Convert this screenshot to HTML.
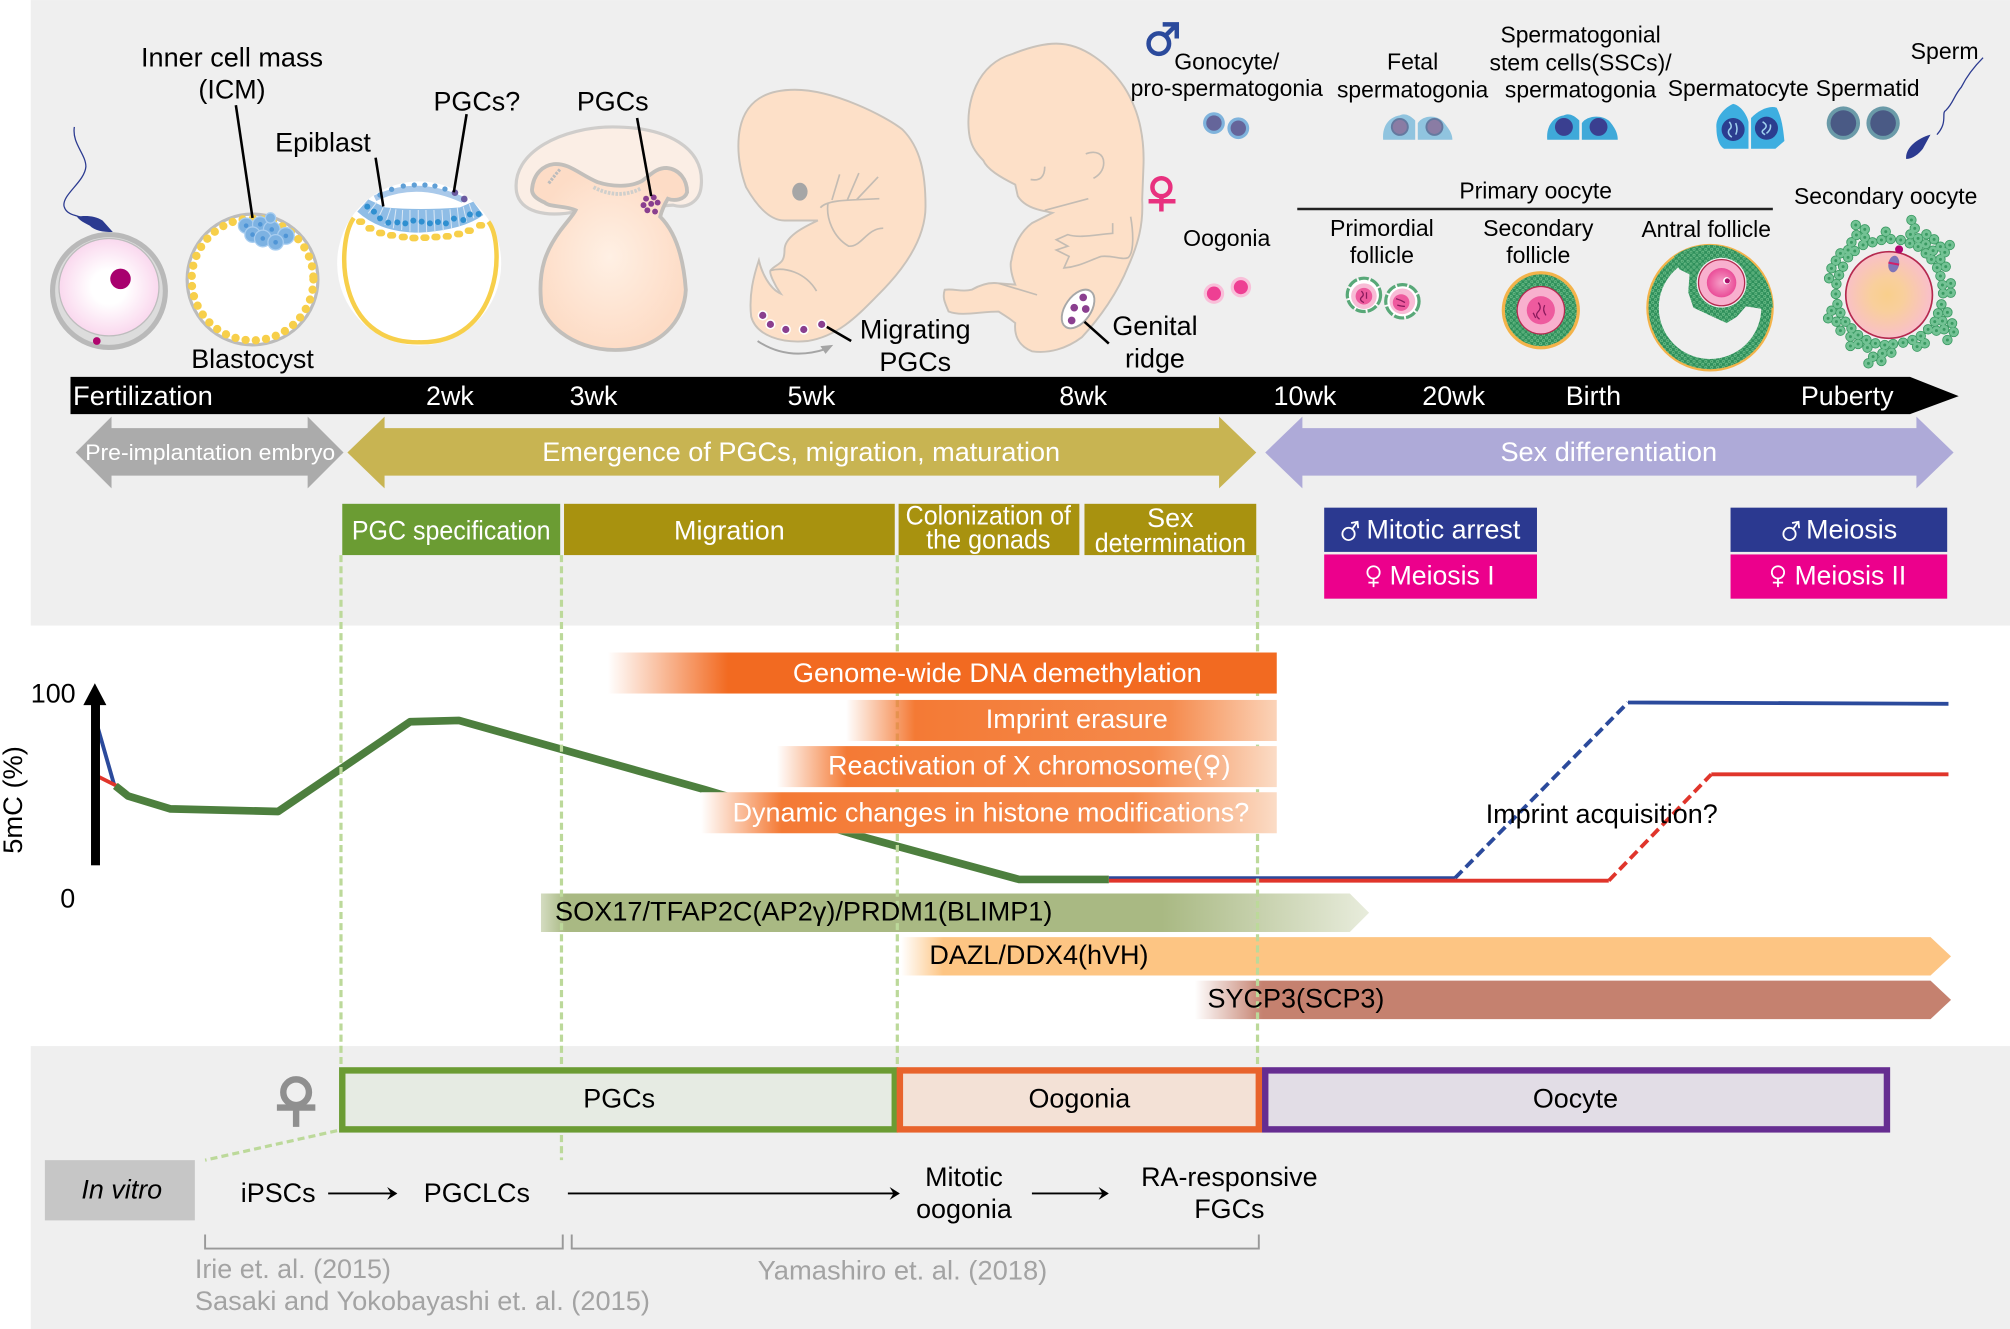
<!DOCTYPE html>
<html><head><meta charset="utf-8"><style>
html,body{margin:0;padding:0;background:#fff;width:2010px;height:1329px;overflow:hidden}
svg{display:block}
text{font-family:"Liberation Sans",sans-serif;font-size:21px;fill:#000}
.s{font-size:18px}.w{fill:#fff}.g{fill:#a3a3a3}
.m{text-anchor:middle}
</style></head><body>
<svg width="2010" height="1329" viewBox="0 0 1568 1036.7" xmlns="http://www.w3.org/2000/svg">
<defs>
<linearGradient id="o1" gradientUnits="userSpaceOnUse" x1="474" x2="996" y1="0" y2="0"><stop offset="0" stop-color="#f26a21" stop-opacity="0"/><stop offset=".18" stop-color="#f26a21"/><stop offset="1" stop-color="#f26a21"/></linearGradient>
<linearGradient id="o2" gradientUnits="userSpaceOnUse" x1="660" x2="996" y1="0" y2="0"><stop offset="0" stop-color="#f47a35" stop-opacity="0"/><stop offset=".16" stop-color="#f47a35"/><stop offset=".75" stop-color="#f58a4c"/><stop offset="1" stop-color="#fbd3b8"/></linearGradient>
<linearGradient id="o3" gradientUnits="userSpaceOnUse" x1="606" x2="996" y1="0" y2="0"><stop offset="0" stop-color="#f47a35" stop-opacity="0"/><stop offset=".14" stop-color="#f47a35"/><stop offset=".75" stop-color="#f58a4c"/><stop offset="1" stop-color="#fbdcc6"/></linearGradient>
<linearGradient id="o4" gradientUnits="userSpaceOnUse" x1="547" x2="996" y1="0" y2="0"><stop offset="0" stop-color="#f47a35" stop-opacity="0"/><stop offset=".14" stop-color="#f47a35"/><stop offset=".75" stop-color="#f58a4c"/><stop offset="1" stop-color="#fbdcc6"/></linearGradient>
<linearGradient id="g1" gradientUnits="userSpaceOnUse" x1="422" x2="1068" y1="0" y2="0"><stop offset="0" stop-color="#a9b983" stop-opacity=".5"/><stop offset=".03" stop-color="#a9b983"/><stop offset=".75" stop-color="#a9b983"/><stop offset="1" stop-color="#e8ecdc"/></linearGradient>
<linearGradient id="g2" gradientUnits="userSpaceOnUse" x1="703" x2="1522" y1="0" y2="0"><stop offset="0" stop-color="#fdc583" stop-opacity="0"/><stop offset=".04" stop-color="#fdc583"/><stop offset="1" stop-color="#fdc583"/></linearGradient>
<linearGradient id="g3" gradientUnits="userSpaceOnUse" x1="932" x2="1522" y1="0" y2="0"><stop offset="0" stop-color="#c5816f" stop-opacity="0"/><stop offset=".09" stop-color="#c5816f"/><stop offset="1" stop-color="#c5816f"/></linearGradient>
<radialGradient id="zy"><stop offset="0" stop-color="#fff"/><stop offset=".35" stop-color="#fff"/><stop offset="1" stop-color="#fad8ee"/></radialGradient>
<radialGradient id="pe"><stop offset="0" stop-color="#fff0e4"/><stop offset="1" stop-color="#fddcc6"/></radialGradient>
<radialGradient id="oo" cx=".48" cy=".5" r=".55"><stop offset="0" stop-color="#f9cf8c"/><stop offset=".35" stop-color="#f9cf9c"/><stop offset="1" stop-color="#f9bdd0"/></radialGradient>
<radialGradient id="pk"><stop offset="0" stop-color="#f6a0c8"/><stop offset="1" stop-color="#ea4d98"/></radialGradient>
<pattern id="gr" patternUnits="userSpaceOnUse" width="4.600" height="4.600"><rect width="4.600" height="4.600" fill="#2f8f5b"/><circle cx="1.300" cy="1.300" r="1.200" fill="#6cbf8a"/><circle cx="3.600" cy="3.600" r="1.200" fill="#6cbf8a"/><circle cx="1.300" cy="1.300" r=".45" fill="#1f7a48"/><circle cx="3.600" cy="3.600" r=".45" fill="#1f7a48"/></pattern>
<path id="cells" d="M768,15h0M795,28h0M770,45h0M795,52h0M755,67h0M790,75h0M745,90h0M765,93h0M722,100h0M708,122h0M745,112h0M695,145h0M730,140h0M718,165h0M688,175h0M710,192h0M708,222h0M713,252h0M695,272h0M722,278h0M685,295h0M710,305h0M737,305h0M722,332h0M755,325h0M752,350h0M775,345h0M752,378h0M775,372h0M800,360h0M803,383h0M827,370h0M855,375h0M880,372h0M910,368h0M938,360h0M963,348h0M952,380h0M975,370h0M985,328h0M1010,332h0M1005,305h0M1033,328h0M1028,303h0M1015,280h0M1043,277h0M1057,310h0M1062,336h0M1043,360h0M1025,253h0M1030,220h0M1053,218h0M1028,195h0M1053,190h0M1022,168h0M1038,140h0M1012,143h0M995,118h0M1022,118h0M1035,97h0M1050,75h0M1022,80h0M1000,92h0M978,100h0M1003,58h0M980,43h0M978,72h0M955,55h0M955,80h0M930,70h0M932,43h0M945,25h0M935,0h0M903,60h0M873,57h0M858,35h0M845,60h0M818,67h0M848,400h0M875,398h0M820,410h0M845,423h0M806,430h0" fill="none" stroke-linecap="round"/>
</defs>

<rect x="24" y="0" width="1544" height="488" fill="#efefef"/>
<rect x="24" y="816" width="1544" height="221" fill="#efefef"/>

<!-- zygote -->
<path d="M58,99 C56,112 67,120 67,130 C66,142 48,152 50,161 C52,168 60,168 65,170" fill="none" stroke="#2b3a90" stroke-width="1"/>
<path d="M60,169 C66,168 74,168 80,172 L88,181 C80,181 74,180 70,176 C66,174 62,172 60,169Z" fill="#2b3a90"/>
<circle cx="85" cy="227" r="44" fill="#dcdcdc" stroke="#b9b9b9" stroke-width="4"/>
<ellipse cx="85" cy="224" rx="39" ry="38" fill="url(#zy)" stroke="#bdbdbd" stroke-width="1"/>
<circle cx="94" cy="217.500" r="8" fill="#a8006e"/>
<circle cx="75.500" cy="266" r="3" fill="#b0056e"/>

<!-- blastocyst -->
<ellipse cx="197" cy="218" rx="51" ry="51" fill="#fff" stroke="#bcbcbc" stroke-width="2.500"/>
<circle cx="197" cy="218" r="47.500" fill="none" stroke="#f7cf4a" stroke-width="6.500" stroke-linecap="round" stroke-dasharray="0 8"/>
<g fill="#7db2e2" stroke="#a8cdf0" stroke-width="1"><circle cx="192" cy="176" r="6"/><circle cx="203" cy="175" r="6"/><circle cx="212" cy="179" r="6.500"/><circle cx="223" cy="184" r="6.500"/><circle cx="197" cy="183" r="6"/><circle cx="205" cy="186" r="6.500"/><circle cx="215" cy="189" r="6"/><circle cx="211" cy="170" r="4"/></g>
<g fill="#4f95d6"><circle cx="192" cy="176" r="1.800"/><circle cx="203" cy="175" r="1.800"/><circle cx="212" cy="179" r="1.800"/><circle cx="223" cy="184" r="1.800"/><circle cx="197" cy="183" r="1.800"/><circle cx="205" cy="186" r="1.800"/><circle cx="215" cy="189" r="1.800"/></g>
<line x1="184" y1="82" x2="197" y2="170" stroke="#000" stroke-width="2"/>

<!-- epiblast -->
<circle cx="327" cy="205.500" r="64" fill="#fff"/>
<path d="M276,170 C262,190 262,268 327,267 C392,268 394,190 381,173" fill="none" stroke="#f7cf4a" stroke-width="3.500"/>
<g transform="translate(249.600,132.600) scale(.26)">
<path d="M165,85 Q290,25 430,90" fill="none" stroke="#a9c9ea" stroke-width="18"/>
<g fill="#5f9fd6"><circle cx="180" cy="75" r="8"/><circle cx="215" cy="58" r="8"/><circle cx="250" cy="48" r="8"/><circle cx="283" cy="45" r="8"/><circle cx="315" cy="45" r="8"/><circle cx="345" cy="48" r="8"/><circle cx="375" cy="57" r="8"/></g>
<circle cx="405" cy="68" r="10" fill="#6a5aa0"/><circle cx="433" cy="87" r="10" fill="#6a5aa0"/>
<path d="M112,125 L145,88 L195,112 Q300,122 420,112 L460,95 L490,135 Q430,180 300,188 Q180,188 112,125Z" fill="#8fbde6"/>
<path d="M145,130 L170,97M172,150 L190,112M195,165 L212,115M220,175 L228,118M245,180 L248,120M270,185 L270,120M295,188 L295,120M320,186 L318,120M345,186 L342,120M370,182 L366,120M395,175 L390,118M418,168 L412,113M440,155 L430,110M462,145 L448,102" stroke="#dbe8f5" stroke-width="3" fill="none"/>
<g fill="#2f8fd0"><circle cx="142" cy="110" r="9"/><circle cx="162" cy="125" r="9"/><circle cx="180" cy="145" r="9"/><circle cx="205" cy="158" r="9"/><circle cx="232" cy="157" r="9"/><circle cx="256" cy="160" r="9"/><circle cx="280" cy="152" r="9"/><circle cx="305" cy="155" r="9"/><circle cx="330" cy="160" r="9"/><circle cx="354" cy="156" r="9"/><circle cx="378" cy="160" r="9"/><circle cx="402" cy="146" r="9"/><circle cx="430" cy="150" r="9"/><circle cx="450" cy="133" r="9"/><circle cx="476" cy="132" r="9"/></g>
<path d="M118,155h8M146,175h8M178,189h8M211,196h8M246,201h8M278,204h8M311,203h8M344,201h8M378,199h8M412,192h8M444,182h8M478,166h8" fill="none" stroke="#f7cf4a" stroke-width="20" stroke-linecap="round"/>
</g>
<line x1="293" y1="123" x2="299" y2="161" stroke="#000" stroke-width="2"/>
<line x1="364" y1="89" x2="354" y2="150" stroke="#000" stroke-width="2"/>

<!-- 3wk -->
<path d="M403,150 C398,118 440,99 478,99 C520,99 550,115 547,145 C546,158 535,163 525,160 L450,165 C425,170 406,165 403,150Z" fill="#fbeee5" stroke="#cfcdcb" stroke-width="2.500"/>
<path d="M415,148 C416,135 424,129 432,128 C444,127 452,136 466,142 C478,146 492,146 501,141 C508,136 512,131 520,131 C530,132 536,140 536,150 C534,156 526,157 521,155 C518,160 516,165 515,169 C526,180 533,198 535,226 C534,250 515,273 480,273 C445,273 422,250 422,234 C420,210 426,195 437,180 C443,172 447,168 449,164 C440,160 430,162 425,158 C418,155 415,152 415,148Z" fill="url(#pe)" stroke="#c2bfbb" stroke-width="3"/>
<path d="M428,143 C432,138 434,135 437,132" fill="none" stroke="#bcbcbc" stroke-width="2.500" stroke-dasharray="2 1"/>
<path d="M463,146 Q482,156 500,147" fill="none" stroke="#cfcfcc" stroke-width="3" stroke-dasharray="2 1"/>
<g fill="#8a3f8f"><circle cx="504" cy="155" r="2.300"/><circle cx="510" cy="154" r="2.300"/><circle cx="502" cy="160" r="2.300"/><circle cx="508" cy="159" r="2.300"/><circle cx="513" cy="158" r="2.300"/><circle cx="505" cy="164" r="2.300"/><circle cx="511" cy="165" r="2.300"/></g>
<line x1="497" y1="92" x2="508" y2="153" stroke="#000" stroke-width="2"/>

<!-- 5wk -->
<path d="M576,114 C576,85 590,70 620,70 C650,70 690,90 704,101 C718,115 722,135 722,161 C722,190 700,215 686,229 C670,245 655,262 630,266 C610,268 590,262 586,247 C584,230 588,215 592,203 C594,212 600,225 609,229 C604,222 600,213 601,211 C606,205 612,207 612,195 C612,185 625,178 638,172 C625,172 620,172 612,172 C600,172 590,160 582,146 C578,135 576,125 576,114Z" fill="#fde0c8" stroke="#c9c2ba" stroke-width="1.500"/>
<ellipse cx="624" cy="149.500" rx="6" ry="7" fill="#a6a6a6"/>
<g fill="none" stroke="#c4bcb3" stroke-width="1.300"><path d="M649,156 L655,136M661,156 L670,135M668,156 L685,138M640,162 C645,156 660,156 686,155M646,158 C644,170 650,185 662,192 C672,193 676,178 689,178M601,211 C612,208 628,212 637,227"/></g>
<g fill="#fff"><circle cx="595" cy="246" r="4"/><circle cx="601" cy="253" r="4"/><circle cx="613" cy="257" r="4"/><circle cx="627" cy="257" r="4"/><circle cx="641" cy="253" r="4"/></g>
<g fill="#8a3f8f"><circle cx="595" cy="246" r="2.800"/><circle cx="601" cy="253" r="2.800"/><circle cx="613" cy="257" r="2.800"/><circle cx="627" cy="257" r="2.800"/><circle cx="641" cy="253" r="2.800"/></g>
<line x1="645" y1="255" x2="664" y2="266" stroke="#000" stroke-width="2"/>
<path d="M591,266 Q615,282 645,272" fill="none" stroke="#a5a5a5" stroke-width="1.500"/><path d="M650,269 L640,270 L644,276Z" fill="#a5a5a5"/>

<!-- 8wk -->
<path d="M756,104 C753,80 762,50 790,42 C805,36 815,34 824,34 C845,34 865,50 877,68 C888,85 893,105 892,130 L891,156 C892,175 888,190 880,208 C872,228 858,248 844,263 C832,272 818,276 805,274 C795,270 791,262 792,252 C786,247 785,247 779,243 C765,243 750,247 740,243 C737,236 735,232 737,226 C745,225 750,228 758,226 C765,222 772,220 779,221 L792,222 C788,212 788,205 789,203 C791,190 797,180 805,174 L821,166 L812,164 C803,162 797,158 794,153 L792,144 C780,138 770,132 767,125 C760,118 757,112 756,104Z" fill="#fde0c8" stroke="#c9c2ba" stroke-width="1.500"/>
<g fill="none" stroke="#c4bcb3" stroke-width="1.300"><path d="M847,120 C855,117 861,120 861,127 C861,133 857,137 853,139M804,140 Q815,142 815,130M815,164 L849,155M809,230 L779,221M868,174 L868,182 C855,183 842,186 833,183 L824,187 L833,192 L824,195 L834,200 L830,209 C842,208 850,203 859,200 C868,199 875,203 880,201 C885,197 884,180 882,169"/></g>
<ellipse cx="841" cy="241" rx="10" ry="17" transform="rotate(35 841 241)" fill="#fff" stroke="#a8a8a8" stroke-width="1.500"/>
<g fill="#8a3f8f"><circle cx="845" cy="232" r="3"/><circle cx="838" cy="240" r="3"/><circle cx="847" cy="241" r="3"/><circle cx="836" cy="250" r="3"/></g>
<line x1="846" y1="251" x2="865" y2="268" stroke="#000" stroke-width="2"/>

<!-- sex symbols -->
<circle cx="904" cy="34" r="8" fill="none" stroke="#2b4a9c" stroke-width="3.500"/>
<path d="M909,28 L917,20M907,19 H918 V30" fill="none" stroke="#2b4a9c" stroke-width="3.500"/>
<circle cx="906" cy="146" r="7" fill="none" stroke="#e8317f" stroke-width="3.500"/>
<path d="M906,153 V165M896,157 H917" fill="none" stroke="#e8317f" stroke-width="3.500"/>

<!-- male germ cells -->
<circle cx="947" cy="96" r="8.500" fill="#7fb3dc"/><circle cx="947" cy="96" r="6" fill="#65659a"/>
<circle cx="966" cy="100" r="8.500" fill="#7fb3dc"/><circle cx="966" cy="100" r="6" fill="#65659a"/>
<path d="M1079,109 C1078,98 1084,91 1092,90 C1096,88 1100,90 1104,94 V109Z" fill="#90c4df"/><path d="M1106,109 V96 C1110,90 1120,89 1126,95 C1130,100 1133,104 1133,109Z" fill="#90c4df"/>
<circle cx="1092" cy="99" r="7" fill="#64799f"/><circle cx="1092" cy="99" r="5.500" fill="#8a7ca4"/><circle cx="1119" cy="99" r="7" fill="#64799f"/><circle cx="1119" cy="99" r="5.500" fill="#8a7ca4"/>
<path d="M1207,109 C1206,98 1212,91 1220,90 C1224,88 1228,90 1232,94 V109Z" fill="#3fa9d9"/><path d="M1234,109 V96 C1238,90 1250,89 1256,95 C1260,100 1262,104 1262,109Z" fill="#3fa9d9"/>
<circle cx="1220" cy="99" r="7" fill="#3a3f90"/><circle cx="1247" cy="99" r="7" fill="#3a3f90"/>
<path d="M1339,100 C1338,92 1345,84 1352,81 C1358,82 1363,90 1364,95 V116 H1345 C1340,113 1339,105 1339,100Z" fill="#3daee0"/>
<path d="M1366,92 C1372,86 1380,82 1386,84 C1390,92 1391,100 1392,110 L1385,116 H1366Z" fill="#3daee0"/>
<circle cx="1352" cy="101" r="9" fill="#2b3d8f"/><circle cx="1378" cy="100" r="9" fill="#2b3d8f"/>
<path d="M1349,95 q3,4 0,6 q-2,3 2,6M1354,96 q2,5 0,9M1375,95 q5,3 1,6 q-3,2 1,4M1381,97 q1,4 -3,7" fill="none" stroke="#9fd0ee" stroke-width="1.200"/>
<circle cx="1438" cy="96" r="13" fill="#6a9aa8"/><circle cx="1438" cy="96" r="10" fill="#4a5a85"/>
<circle cx="1469" cy="96" r="13" fill="#6a9aa8"/><circle cx="1469" cy="96" r="10" fill="#4a5a85"/>
<path d="M1511,105 C1520,95 1514,88 1518,86 C1524,80 1524,75 1530,68 C1534,60 1540,52 1547,45" fill="none" stroke="#2b3a90" stroke-width="1"/>
<path d="M1487,124 C1486,116 1495,108 1506,105 L1500,116 C1497,120 1492,124 1487,124Z" fill="#2b3a90"/>

<!-- oogonia -->
<circle cx="947" cy="229" r="8" fill="#f9bfd9"/><circle cx="947" cy="229" r="5.500" fill="#ee3f93"/>
<circle cx="968" cy="224" r="8" fill="#f9bfd9"/><circle cx="968" cy="224" r="5.500" fill="#ee3f93"/>

<line x1="1012" y1="163" x2="1383" y2="163" stroke="#222" stroke-width="2"/>

<!-- primordial -->
<circle cx="1064" cy="230" r="13" fill="#fff" stroke="#58a878" stroke-width="2.500" stroke-dasharray="8 1.500"/><circle cx="1064" cy="231" r="10" fill="#f8bcd6"/><circle cx="1064" cy="231" r="6.500" fill="#ee5a9e"/>
<path d="M1062,227 q3,3 0,5 q-2,2 2,4M1066,228 v5" fill="none" stroke="#8a1a5c" stroke-width="1"/>
<circle cx="1094" cy="235" r="13" fill="#fff" stroke="#58a878" stroke-width="2.500" stroke-dasharray="8 1.500"/><circle cx="1094" cy="235" r="10" fill="#f8bcd6"/><circle cx="1093" cy="236" r="6.500" fill="#ee5a9e"/>
<path d="M1089,233 q4,1 7,3M1090,238 q4,1 6,1" fill="none" stroke="#8a1a5c" stroke-width="1"/>

<!-- secondary follicle -->
<circle cx="1202" cy="242" r="30.500" fill="#f3b34a"/>
<circle cx="1202" cy="242" r="28" fill="url(#gr)"/>
<circle cx="1202" cy="242" r="19" fill="#b5294e"/><circle cx="1202" cy="242" r="18" fill="#f8b0ce"/><circle cx="1202" cy="242" r="11" fill="#ee5a9e"/>
<path d="M1200,236 q3,4 0,7 q-3,3 1,6M1205,238 q-2,4 1,8M1196,244 l2,4" fill="none" stroke="#8a1a5c" stroke-width="1"/>

<!-- antral follicle -->
<circle cx="1334" cy="240" r="48.500" fill="none" stroke="#f3b34a" stroke-width="2.500"/>
<circle cx="1334" cy="240" r="44" fill="none" stroke="url(#gr)" stroke-width="8"/>
<path d="M1306,200 L1310,210 L1318,214 L1317,228 L1321,240 L1336,247 L1347,252 L1355,247 L1362,239 L1375,241 L1383,240 C1383,215 1360,191 1334,191 C1322,191 1312,195 1306,200Z" fill="url(#gr)"/>
<circle cx="1343" cy="220.500" r="19.500" fill="#efefef"/><circle cx="1343" cy="220.500" r="18" fill="#f8b0ce" stroke="#b5294e" stroke-width="1"/>
<circle cx="1343" cy="220.500" r="11.500" fill="url(#pk)"/><circle cx="1347" cy="219" r="2.800" fill="#fff"/><circle cx="1347.500" cy="219" r="2" fill="#a8106a"/>

<!-- secondary oocyte -->
<g transform="translate(1248,171.600) scale(.26)">
<use href="#cells" stroke="#3a9a62" stroke-width="31"/>
<use href="#cells" stroke="#73c294" stroke-width="26"/>
<use href="#cells" stroke="#3a9a62" stroke-width="9"/>
<circle cx="868" cy="225" r="130" fill="url(#oo)" stroke="#b5294e" stroke-width="5"/>
<ellipse cx="882" cy="132" rx="16" ry="25" fill="#7f74b8" transform="rotate(10 882 132)"/>
<path d="M866,128 L898,134" stroke="#d0206a" stroke-width="6"/>
<circle cx="898" cy="88" r="12" fill="#b0056e"/>
</g>

<!-- timeline -->
<path d="M55,294 H1490 L1528,309 L1490,323 H55Z" fill="#000"/>
<text class="w" x="57" y="316" textLength="109" lengthAdjust="spacingAndGlyphs">Fertilization</text>
<text class="w m" x="351" y="316">2wk</text><text class="w m" x="463" y="316">3wk</text><text class="w m" x="633" y="316">5wk</text><text class="w m" x="845" y="316">8wk</text>
<text class="w m" x="1018" y="316">10wk</text><text class="w m" x="1134" y="316">20wk</text><text class="w m" x="1243" y="316">Birth</text><text class="w m" x="1441" y="316">Puberty</text>

<!-- phase arrows -->
<path d="M59,353 L87,325 V334 H240 V325 L268,353 L240,381 V371 H87 V381Z" fill="#ababab"/>
<path d="M271,353 L300,325 V334 H951 V325 L980,353 L951,381 V371 H300 V381Z" fill="#c8b452"/>
<path d="M987,353 L1016,325 V334 H1495 V325 L1524,353 L1495,381 V371 H1016 V381Z" fill="#aeaad8"/>
<text class="w m" x="164" y="359" style="font-size:17.500px" textLength="195" lengthAdjust="spacingAndGlyphs">Pre-implantation embryo</text>
<text class="w m" x="625" y="359.500" textLength="404" lengthAdjust="spacingAndGlyphs">Emergence of PGCs, migration, maturation</text>
<text class="w m" x="1255" y="359.500" textLength="169" lengthAdjust="spacingAndGlyphs">Sex differentiation</text>

<!-- stage boxes -->
<rect x="267" y="393" width="170" height="40" fill="#6b9c33"/>
<rect x="440" y="393" width="258" height="40" fill="#a8920f"/>
<rect x="701" y="393" width="141" height="40" fill="#a8920f"/>
<rect x="846" y="393" width="134" height="40" fill="#a8920f"/>
<text class="w m" x="352" y="421" textLength="155" lengthAdjust="spacingAndGlyphs">PGC specification</text>
<text class="w m" x="569" y="421">Migration</text>
<text class="w m" x="771" y="409" textLength="129" lengthAdjust="spacingAndGlyphs">Colonization of</text>
<text class="w m" x="771" y="428" textLength="97" lengthAdjust="spacingAndGlyphs">the gonads</text>
<text class="w m" x="913" y="411">Sex</text>
<text class="w m" x="913" y="430.500" textLength="118" lengthAdjust="spacingAndGlyphs">determination</text>

<rect x="1033" y="396" width="166" height="34.500" fill="#2b3990"/>
<rect x="1033" y="432.500" width="166" height="34.500" fill="#ec008c"/>
<rect x="1350" y="396" width="169" height="34.500" fill="#2b3990"/>
<rect x="1350" y="432.500" width="169" height="34.500" fill="#ec008c"/>
<text class="w" x="1066" y="420" textLength="120" lengthAdjust="spacingAndGlyphs">Mitotic arrest</text>
<text class="w" x="1084" y="456" textLength="82" lengthAdjust="spacingAndGlyphs">Meiosis I</text>
<text class="w" x="1409" y="420" textLength="71" lengthAdjust="spacingAndGlyphs">Meiosis</text>
<text class="w" x="1400" y="456" textLength="87" lengthAdjust="spacingAndGlyphs">Meiosis II</text>
<g fill="none" stroke="#fff" stroke-width="1.400">
<circle cx="1052" cy="416.500" r="4.800"/><path d="M1055,412.500 L1058.500,407.500M1054,408 L1059,407 L1059.500,412"/>
<circle cx="1396" cy="416.500" r="4.800"/><path d="M1399,412.500 L1402.500,407.500M1398,408 L1403,407 L1403.500,412"/>
<circle cx="1071.500" cy="446.500" r="4.800"/><path d="M1071.500,451.300 V458M1067.500,454.500 H1075.500"/>
<circle cx="1387" cy="446.500" r="4.800"/><path d="M1387,451.300 V458M1383,454.500 H1391"/>
</g>

<!-- curve -->
<polyline points="75,563 89,612" fill="none" stroke="#2b4a9c" stroke-width="3"/>
<polyline points="75,605 91,613" fill="none" stroke="#e0352b" stroke-width="3"/>
<polyline points="865,685 1135,685" fill="none" stroke="#2b4a9c" stroke-width="3"/>
<polyline points="1135,685 1270,548" fill="none" stroke="#2b4a9c" stroke-width="3" stroke-dasharray="8 4"/>
<polyline points="1270,548 1520,549" fill="none" stroke="#2b4a9c" stroke-width="3"/>
<polyline points="865,687 1255,687" fill="none" stroke="#e0352b" stroke-width="3"/>
<polyline points="1255,687 1335,604" fill="none" stroke="#e0352b" stroke-width="3" stroke-dasharray="8 4"/>
<polyline points="1335,604 1520,604" fill="none" stroke="#e0352b" stroke-width="3"/>
<polyline points="90,613 100,621 133,631 217,633 320,563 358,562 550,616 670,652 795,686 865,686" fill="none" stroke="#4d7f3e" stroke-width="6" stroke-linejoin="round"/>
<rect x="71" y="548" width="7" height="127" fill="#000"/>
<path d="M65,550 L74,533 L83,550Z" fill="#000"/>
<text x="24" y="548">100</text><text x="47" y="708">0</text>
<text transform="translate(17,666) rotate(-90)" textLength="84" lengthAdjust="spacingAndGlyphs">5mC (%)</text>

<!-- gene bars -->
<path d="M422,697 H1053 L1068,712 L1053,727 H422Z" fill="url(#g1)"/>
<path d="M703,731 H1506 L1522,746 L1506,761 H703Z" fill="url(#g2)"/>
<path d="M932,765 H1506 L1522,780 L1506,795 H932Z" fill="url(#g3)"/>

<!-- dashed guides -->
<g stroke="#bcd99a" stroke-width="2.500" stroke-dasharray="5.500 3.200" fill="none">
<path d="M266,433 V833M438,433 V905M700,433 V833M981,433 V833M263,882 L160,905"/>
</g>

<!-- orange bars -->
<rect x="547" y="618" width="449" height="32" fill="#fff"/>
<rect x="474" y="509" width="522" height="32" fill="url(#o1)"/>
<rect x="660" y="546" width="336" height="32" fill="url(#o2)"/>
<rect x="606" y="582" width="390" height="32" fill="url(#o3)"/>
<rect x="547" y="618" width="449" height="32" fill="url(#o4)"/>
<text class="w m" x="778" y="532" textLength="319" lengthAdjust="spacingAndGlyphs">Genome-wide DNA demethylation</text>
<text class="w m" x="840" y="568" textLength="142" lengthAdjust="spacingAndGlyphs">Imprint erasure</text>
<text class="w m" x="803" y="604" textLength="314" lengthAdjust="spacingAndGlyphs">Reactivation of X chromosome(<tspan style="font-family:'DejaVu Sans',sans-serif">♀</tspan>)</text>
<text class="w m" x="773" y="641" textLength="403" lengthAdjust="spacingAndGlyphs">Dynamic changes in histone modifications?</text>
<text x="1159" y="642" textLength="181" lengthAdjust="spacingAndGlyphs">Imprint acquisition?</text>

<text x="433" y="718" textLength="388" lengthAdjust="spacingAndGlyphs">SOX17/TFAP2C(AP2γ)/PRDM1(BLIMP1)</text>
<text x="725" y="752" textLength="171" lengthAdjust="spacingAndGlyphs">DAZL/DDX4(hVH)</text>
<text x="942" y="786" textLength="138" lengthAdjust="spacingAndGlyphs">SYCP3(SCP3)</text>

<!-- bottom -->
<circle cx="231" cy="852" r="10" fill="none" stroke="#8f8f8f" stroke-width="5"/>
<path d="M231,862 V879M216,864 H246" fill="none" stroke="#8f8f8f" stroke-width="5"/>
<rect x="267" y="835" width="431" height="46" fill="#e6ebe3" stroke="#6b9c33" stroke-width="5"/>
<rect x="702" y="835" width="280" height="46" fill="#f3e1d6" stroke="#e8632c" stroke-width="5"/>
<rect x="987" y="835" width="485" height="46" fill="#e2dde6" stroke="#662d91" stroke-width="5"/>
<text class="m" x="483" y="864">PGCs</text><text class="m" x="842" y="864">Oogonia</text><text class="m" x="1229" y="864">Oocyte</text>
<rect x="35" y="905" width="117" height="47" fill="#c6c6c6"/>
<text class="m" x="95" y="935" style="font-style:italic">In vitro</text>
<text class="m" x="217" y="937.500">iPSCs</text>
<text class="m" x="372" y="937.500">PGCLCs</text>
<text class="m" x="752" y="925">Mitotic</text><text class="m" x="752" y="950">oogonia</text>
<text class="m" x="959" y="925">RA-responsive</text><text class="m" x="959" y="950">FGCs</text>
<g stroke="#000" stroke-width="1.500" fill="none"><path d="M256,931 H309M443,931 H701M805,931 H864"/></g>
<g fill="#000"><path d="M310,931 L302,926 L305,931 L302,936Z"/><path d="M702,931 L694,926 L697,931 L694,936Z"/><path d="M865,931 L857,926 L860,931 L857,936Z"/></g>
<path d="M160,963 V974 H439 V963M446,963 V974 H982 V963" fill="none" stroke="#999" stroke-width="1.500"/>
<text class="g" x="152" y="997" textLength="153" lengthAdjust="spacingAndGlyphs">Irie et. al. (2015)</text>
<text class="g" x="152" y="1022" textLength="355" lengthAdjust="spacingAndGlyphs">Sasaki and Yokobayashi et. al. (2015)</text>
<text class="g m" x="704" y="998" textLength="226" lengthAdjust="spacingAndGlyphs">Yamashiro et. al. (2018)</text>

<!-- top labels -->
<text class="m" x="181" y="52" textLength="142" lengthAdjust="spacingAndGlyphs">Inner cell mass</text>
<text class="m" x="181" y="77">(ICM)</text>
<text class="m" x="372" y="86">PGCs?</text>
<text class="m" x="478" y="86">PGCs</text>
<text class="m" x="252" y="118">Epiblast</text>
<text class="m" x="197" y="287">Blastocyst</text>
<text class="m" x="714" y="264">Migrating</text><text class="m" x="714" y="289.500">PGCs</text>
<text class="m" x="901" y="261.500">Genital</text><text class="m" x="901" y="286.500">ridge</text>
<text class="s m" x="957" y="54">Gonocyte/</text>
<text class="s m" x="957" y="75" textLength="150" lengthAdjust="spacingAndGlyphs">pro-spermatogonia</text>
<text class="s m" x="1102" y="54">Fetal</text>
<text class="s m" x="1102" y="76" textLength="118" lengthAdjust="spacingAndGlyphs">spermatogonia</text>
<text class="s m" x="1233" y="33" textLength="125" lengthAdjust="spacingAndGlyphs">Spermatogonial</text>
<text class="s m" x="1233" y="55" textLength="142" lengthAdjust="spacingAndGlyphs">stem cells(SSCs)/</text>
<text class="s m" x="1233" y="76" textLength="118" lengthAdjust="spacingAndGlyphs">spermatogonia</text>
<text class="s m" x="1356" y="75" textLength="110" lengthAdjust="spacingAndGlyphs">Spermatocyte</text>
<text class="s m" x="1457" y="75" textLength="81" lengthAdjust="spacingAndGlyphs">Spermatid</text>
<text class="s m" x="1517" y="46" textLength="53" lengthAdjust="spacingAndGlyphs">Sperm</text>
<text class="s m" x="957" y="192">Oogonia</text>
<text class="s m" x="1198" y="155" textLength="119" lengthAdjust="spacingAndGlyphs">Primary oocyte</text>
<text class="s m" x="1471" y="159" textLength="143" lengthAdjust="spacingAndGlyphs">Secondary oocyte</text>
<text class="s m" x="1078" y="184">Primordial</text><text class="s m" x="1078" y="205">follicle</text>
<text class="s m" x="1200" y="184">Secondary</text><text class="s m" x="1200" y="205">follicle</text>
<text class="s m" x="1331" y="185" textLength="101" lengthAdjust="spacingAndGlyphs">Antral follicle</text>
</svg>
</body></html>
